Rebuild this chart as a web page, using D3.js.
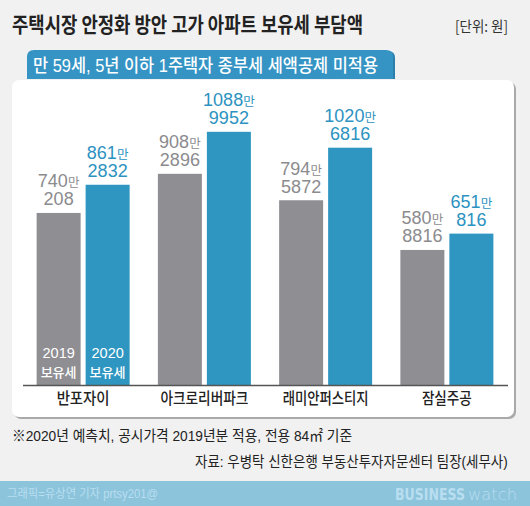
<!DOCTYPE html>
<html><head><meta charset="utf-8">
<script src="https://cdn.jsdelivr.net/npm/d3@7"></script>
<style>
html,body{margin:0;padding:0;background:#f1f1f1;}
svg{display:block;}
</style></head>
<body>
<script>
const categories = ["반포자이", "아크로리버파크", "래미안퍼스티지", "잠실주공"];
const seriesNames = ["2019", "2020"];
const tax2019 = [7400208, 9082896, 7945872, 5808816];
const tax2020 = [8612832, 10889952, 10206816, 6510816];
const yTicks = [0, 1200]; // in 만원

const W = 530, H = 506;
const FONT = "'Liberation Sans','Noto Sans CJK KR',sans-serif";
const KFONT = "'Noto Sans CJK KR',sans-serif";
const GRAY = "#8f8e93", BLUE = "#2e96c1";
const colors = {"2019": GRAY, "2020": BLUE};
const labelColors = {"2019": "#8b8b8e", "2020": "#2c92bf"};

const svg = d3.select("body").append("svg").attr("width", W).attr("height", H)
  .style("background", "#f1f1f1");

// horizontally fit a text to a width, anchored at its left x
function fitText(sel, x, yy, width) {
  sel.attr("x", 0).attr("y", 0);
  const nat = sel.node().getComputedTextLength();
  sel.attr("transform", `translate(${x},${yy}) scale(${width / nat},1)`);
  return sel;
}

// title
svg.append("text").attr("x", 12).attr("y", 32)
  .attr("font-family", KFONT).attr("font-size", 21).attr("font-weight", 700)
  .attr("fill", "#222").attr("textLength", 351).attr("lengthAdjust", "spacingAndGlyphs")
  .text("주택시장 안정화 방안 고가 아파트 보유세 부담액");
svg.append("text").attr("x", 455).attr("y", 32)
  .attr("font-family", KFONT).attr("font-size", 15).attr("fill", "#333")
  .attr("textLength", 53).attr("lengthAdjust", "spacingAndGlyphs")
  .text("[단위: 원]");

// panel shadow + panel
svg.append("rect").attr("x", 14).attr("y", 82).attr("width", 502).attr("height", 337)
  .attr("rx", 7).attr("fill", "#a9a9a9");
svg.append("rect").attr("x", 12).attr("y", 80).attr("width", 502).attr("height", 337)
  .attr("rx", 7).attr("fill", "#ffffff");

// subtitle box (rounded top corners)
const bx = 27, by = 50, bw = 366, bh = 29, r = 7;
svg.append("path").attr("fill", "#2a7fab")
  .attr("d", `M${bx+2},${by+bh} V${by+r+1} Q${bx+2},${by+1} ${bx+r+2},${by+1} H${bx+bw-r+2} Q${bx+bw+2},${by+1} ${bx+bw+2},${by+r+1} V${by+bh} Z`);
svg.append("path").attr("fill", "#3594c4")
  .attr("d", `M${bx},${by+bh} V${by+r} Q${bx},${by} ${bx+r},${by} H${bx+bw-r} Q${bx+bw},${by} ${bx+bw},${by+r} V${by+bh} Z`);
svg.append("text").attr("x", 33).attr("y", 72)
  .attr("font-family", FONT).attr("font-size", 18).attr("font-weight", 500)
  .attr("fill", "#fff").attr("textLength", 345).attr("lengthAdjust", "spacingAndGlyphs")
  .text("만 59세, 5년 이하 1주택자 종부세 세액공제 미적용");

// scales
const x0 = d3.scaleBand().domain(categories).range([22.5, 507.5]);
const x1 = d3.scaleBand().domain(seriesNames).range([-46.5, 46.5]).paddingInner(0.102);
const y = d3.scaleLinear().domain([yTicks[0], yTicks[1]]).range([385, 106]);

const data = categories.map((c, i) => ({
  cat: c,
  vals: [{s: "2019", v: tax2019[i]}, {s: "2020", v: tax2020[i]}]
}));

const g = svg.append("g");
const groups = g.selectAll("g.grp").data(data).join("g")
  .attr("transform", d => `translate(${x0(d.cat) + x0.bandwidth()/2},0)`);

groups.selectAll("rect").data(d => d.vals).join("rect")
  .attr("x", d => x1(d.s)).attr("width", x1.bandwidth())
  .attr("y", d => y(d.v / 10000)).attr("height", d => y(0) - y(d.v / 10000))
  .attr("fill", d => colors[d.s]);

// value labels
const lab = groups.selectAll("g.lab").data(d => d.vals).join("g")
  .attr("transform", d => `translate(${x1(d.s) + x1.bandwidth()/2},${y(d.v/10000)})`);
lab.each(function(d) {
  const sel = d3.select(this);
  const man = Math.floor(d.v / 10000);
  const rest = d.v % 10000;
  const t1 = sel.append("text").attr("y", -25.5).attr("text-anchor", "middle")
    .attr("font-family", FONT).attr("fill", labelColors[d.s]);
  t1.append("tspan").attr("font-size", 18).text(String(man));
  t1.append("tspan").attr("font-size", 12.5).attr("font-family", KFONT).text("만");
  sel.append("text").attr("y", -7.5).attr("text-anchor", "middle")
    .attr("font-family", FONT).attr("font-size", 18).attr("fill", labelColors[d.s])
    .text(String(rest));
});

// in-bar legend labels on first group
const first = groups.filter((d, i) => i === 0);
first.selectAll("g.leg").data(d => d.vals).join("g")
  .attr("transform", d => `translate(${x1(d.s) + x1.bandwidth()/2},0)`)
  .each(function(d) {
    const s = d3.select(this);
    s.append("text").attr("y", 358).attr("text-anchor", "middle")
      .attr("font-family", FONT).attr("font-size", 14.5).attr("fill", "#fff").text(d.s);
    s.append("text").attr("y", 376.5).attr("text-anchor", "middle")
      .attr("font-family", KFONT).attr("font-size", 13).attr("font-weight", 500).attr("fill", "#fff")
      .attr("textLength", 36).attr("lengthAdjust", "spacingAndGlyphs").text("보유세");
  });

// x axis
const catWidths = [53, 88, 86, 50];
const axis = svg.append("g").attr("transform", "translate(0,385)")
  .call(d3.axisBottom(x0).tickSize(0).tickSizeOuter(0));
axis.select(".domain").attr("stroke", "#555").attr("stroke-width", 1.5);
axis.selectAll(".tick text")
  .attr("y", 19).attr("dy", 0)
  .attr("font-family", KFONT).attr("font-size", 16).attr("font-weight", 500).attr("fill", "#222")
  .attr("textLength", (d, i) => catWidths[i]).attr("lengthAdjust", "spacingAndGlyphs");

// footnotes
svg.append("text").attr("x", 12).attr("y", 441)
  .attr("font-family", FONT).attr("font-size", 15).attr("fill", "#222")
  .attr("textLength", 340).attr("lengthAdjust", "spacingAndGlyphs")
  .text("※2020년 예측치, 공시가격 2019년분 적용, 전용 84㎡ 기준");
fitText(svg.append("text")
  .attr("font-family", FONT).attr("font-size", 15).attr("fill", "#222")
  .text("자료: 우병탁 신한은행 부동산투자자문센터 팀장(세무사)"), 195, 467, 313);

// bottom band
svg.append("rect").attr("x", 0).attr("y", 481).attr("width", W).attr("height", H - 481)
  .attr("fill", "#8cc4dc");
svg.append("text").attr("x", 7).attr("y", 498)
  .attr("font-family", FONT).attr("font-size", 12).attr("fill", "#b9def0")
  .attr("textLength", 151).attr("lengthAdjust", "spacingAndGlyphs")
  .text("그래픽=유상연 기자 prtsy201@");
fitText(svg.append("text")
  .attr("font-family", "'DejaVu Sans',sans-serif").attr("fill", "#b9def0")
  .attr("font-size", 15).attr("font-weight", 700).text("BUSINESS"), 395, 500, 70);
fitText(svg.append("text")
  .attr("font-family", "'DejaVu Sans',sans-serif").attr("fill", "#b9def0")
  .attr("font-size", 15).attr("font-weight", 200).text("watch"), 468, 500, 49);
</script>
</body></html>
